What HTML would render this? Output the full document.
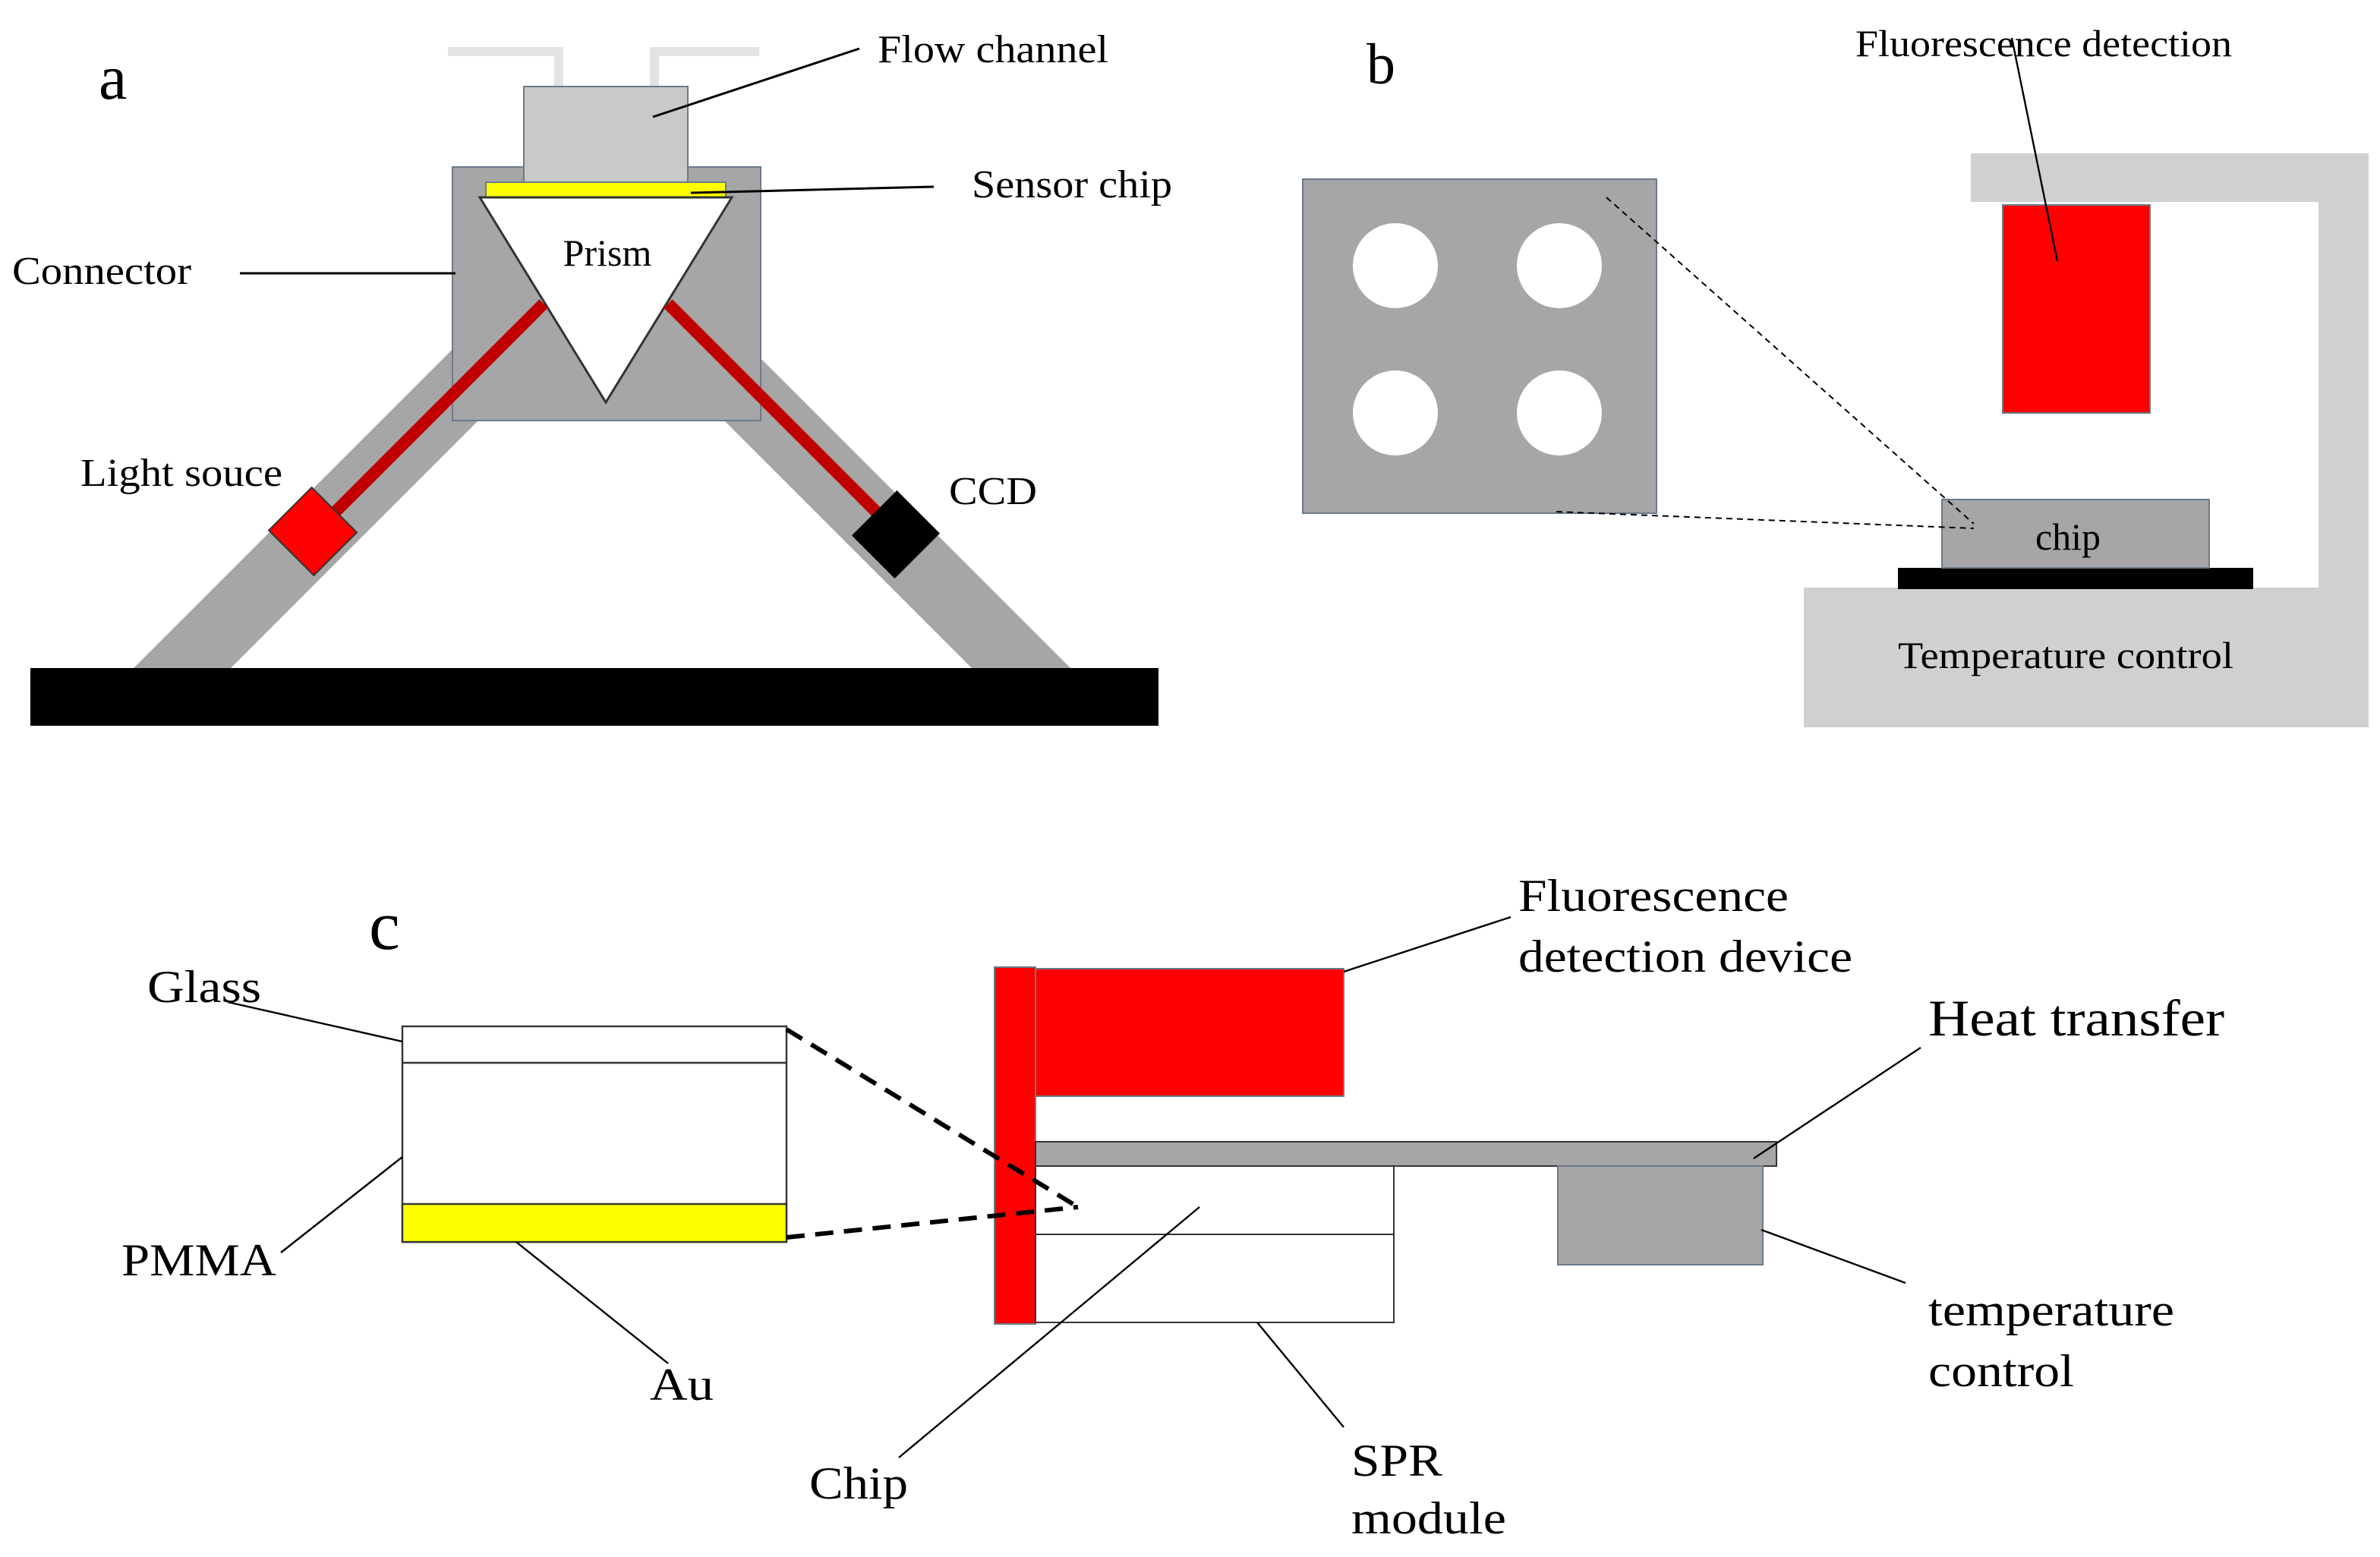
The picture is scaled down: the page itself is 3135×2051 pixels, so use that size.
<!DOCTYPE html>
<html><head><meta charset="utf-8"><style>html,body{margin:0;padding:0;background:#fff}svg{display:block}</style></head>
<body>
<svg width="3135" height="2051" viewBox="0 0 1567.5 1025.5" xmlns="http://www.w3.org/2000/svg" font-family="Liberation Serif, serif" fill="#000">
<rect width="1567.5" height="1025.5" fill="#fff"/>
<!-- Panel a -->
<text x="65" y="65" font-size="42">a</text>
<polyline points="295,34 368,34 368,58" fill="none" stroke="#e3e3e3" stroke-width="6"/>
<polyline points="500,34 431,34 431,58" fill="none" stroke="#e3e3e3" stroke-width="6"/>
<polygon points="88,440 152,440 380,212 316,212" fill="#a6a6a6"/>
<polygon points="640,440 705,440 477,212 412,212" fill="#a6a6a6"/>
<rect x="298" y="110" width="203" height="167" fill="#a6a6a6" stroke="#6b7a8a" stroke-width="1"/>
<rect x="345" y="57" width="108" height="65" fill="#c9c9c9" stroke="#6b7a8a" stroke-width="1"/>
<rect x="320" y="120" width="158" height="10" fill="#ffff00" stroke="#6b7a8a" stroke-width="1"/>
<polygon points="316,130 482,130 399,265" fill="#fff" stroke="#333" stroke-width="1.5"/>
<text x="400" y="175" font-size="25" text-anchor="middle">Prism</text>
<line x1="358" y1="200" x2="216" y2="342" stroke="#c00000" stroke-width="8"/>
<line x1="440" y1="200" x2="584" y2="344" stroke="#c00000" stroke-width="8"/>
<rect x="185" y="330" width="42" height="40" fill="#ff0000" stroke="#333" stroke-width="1" transform="rotate(45 206 350)"/>
<rect x="569" y="332" width="42" height="40" fill="#000" transform="rotate(-45 590 352)"/>
<rect x="20" y="440" width="743" height="38" fill="#000"/>
<text x="578" y="41" font-size="26" textLength="152" lengthAdjust="spacingAndGlyphs">Flow channel</text>
<line x1="430" y1="77" x2="566" y2="32" stroke="#000" stroke-width="1.5"/>
<text x="640" y="130" font-size="26" textLength="132" lengthAdjust="spacingAndGlyphs">Sensor chip</text>
<line x1="455" y1="127" x2="615" y2="123" stroke="#000" stroke-width="1.5"/>
<text x="8" y="187" font-size="26" textLength="118" lengthAdjust="spacingAndGlyphs">Connector</text>
<line x1="158" y1="180" x2="300" y2="180" stroke="#000" stroke-width="1.5"/>
<text x="53" y="320" font-size="26" textLength="133" lengthAdjust="spacingAndGlyphs">Light souce</text>
<text x="625" y="332" font-size="26" textLength="58" lengthAdjust="spacingAndGlyphs">CCD</text>
<!-- Panel b -->
<text x="900" y="55" font-size="38">b</text>
<rect x="858" y="118" width="233" height="220" fill="#a6a6a6" stroke="#6b7a8a" stroke-width="1"/>
<circle cx="919" cy="175" r="28" fill="#fff"/>
<circle cx="1027" cy="175" r="28" fill="#fff"/>
<circle cx="919" cy="272" r="28" fill="#fff"/>
<circle cx="1027" cy="272" r="28" fill="#fff"/>
<rect x="1298" y="101" width="262" height="32" fill="#d0d0d0"/>
<rect x="1527" y="101" width="33" height="290" fill="#d0d0d0"/>
<rect x="1188" y="387" width="372" height="92" fill="#d0d0d0"/>
<rect x="1319" y="135" width="97" height="137" fill="#ff0000" stroke="#6b7a8a" stroke-width="1"/>
<rect x="1250" y="374" width="234" height="14" fill="#000"/>
<rect x="1279" y="329" width="176" height="45" fill="#a6a6a6" stroke="#6b7a8a" stroke-width="1"/>
<text x="1362" y="362" font-size="25" text-anchor="middle">chip</text>
<text x="1250" y="440" font-size="25" textLength="221" lengthAdjust="spacingAndGlyphs">Temperature control</text>
<text x="1222" y="37" font-size="25" textLength="248" lengthAdjust="spacingAndGlyphs">Fluorescence detection</text>
<line x1="1325" y1="25" x2="1355" y2="172" stroke="#000" stroke-width="1.2"/>
<line x1="1058" y1="130" x2="1300" y2="345" stroke="#000" stroke-width="1" stroke-dasharray="4,3"/>
<line x1="1025" y1="337" x2="1300" y2="348" stroke="#000" stroke-width="1" stroke-dasharray="4,3"/>
<!-- Panel c -->
<text x="243" y="625" font-size="46">c</text>
<rect x="265" y="676" width="253" height="142" fill="#fff" stroke="#333" stroke-width="1.2"/>
<line x1="265" y1="700" x2="518" y2="700" stroke="#333" stroke-width="1.2"/>
<rect x="265" y="793" width="253" height="25" fill="#ffff00" stroke="#333" stroke-width="1.2"/>
<rect x="655" y="637" width="27" height="235" fill="#ff0000" stroke="#6b7a8a" stroke-width="1"/>
<rect x="682" y="638" width="203" height="84" fill="#ff0000" stroke="#6b7a8a" stroke-width="1"/>
<rect x="682" y="752" width="488" height="16" fill="#a6a6a6" stroke="#333" stroke-width="1"/>
<rect x="682" y="768" width="236" height="45" fill="#fff" stroke="#333" stroke-width="1"/>
<rect x="682" y="813" width="236" height="58" fill="#fff" stroke="#333" stroke-width="1"/>
<rect x="1026" y="768" width="135" height="65" fill="#a6a6a6" stroke="#6b7a8a" stroke-width="1"/>
<line x1="518" y1="678" x2="710" y2="795" stroke="#000" stroke-width="3" stroke-dasharray="12,7"/>
<line x1="518" y1="815" x2="710" y2="795" stroke="#000" stroke-width="3" stroke-dasharray="12,7"/>
<text x="97" y="660" font-size="30" textLength="75" lengthAdjust="spacingAndGlyphs">Glass</text>
<line x1="150" y1="660" x2="265" y2="686" stroke="#000" stroke-width="1.2"/>
<text x="80" y="840" font-size="30" textLength="102" lengthAdjust="spacingAndGlyphs">PMMA</text>
<line x1="185" y1="825" x2="265" y2="762" stroke="#000" stroke-width="1.2"/>
<text x="428" y="922" font-size="30" textLength="42" lengthAdjust="spacingAndGlyphs">Au</text>
<line x1="340" y1="818" x2="440" y2="898" stroke="#000" stroke-width="1.2"/>
<text x="533" y="987" font-size="30" textLength="65" lengthAdjust="spacingAndGlyphs">Chip</text>
<line x1="592" y1="960" x2="790" y2="795" stroke="#000" stroke-width="1.2"/>
<text x="890" y="972" font-size="30" textLength="60" lengthAdjust="spacingAndGlyphs">SPR</text>
<text x="890" y="1010" font-size="30" textLength="102" lengthAdjust="spacingAndGlyphs">module</text>
<line x1="828" y1="871" x2="885" y2="940" stroke="#000" stroke-width="1.2"/>
<text x="1000" y="600" font-size="30" textLength="178" lengthAdjust="spacingAndGlyphs">Fluorescence</text>
<text x="1000" y="640" font-size="30" textLength="220" lengthAdjust="spacingAndGlyphs">detection device</text>
<line x1="885" y1="640" x2="995" y2="604" stroke="#000" stroke-width="1.2"/>
<text x="1270" y="682" font-size="34" textLength="195" lengthAdjust="spacingAndGlyphs">Heat transfer</text>
<line x1="1155" y1="763" x2="1265" y2="690" stroke="#000" stroke-width="1.2"/>
<text x="1270" y="873" font-size="30" textLength="162" lengthAdjust="spacingAndGlyphs">temperature</text>
<text x="1270" y="913" font-size="30" textLength="96" lengthAdjust="spacingAndGlyphs">control</text>
<line x1="1160" y1="810" x2="1255" y2="845" stroke="#000" stroke-width="1.2"/>
</svg>
</body></html>
